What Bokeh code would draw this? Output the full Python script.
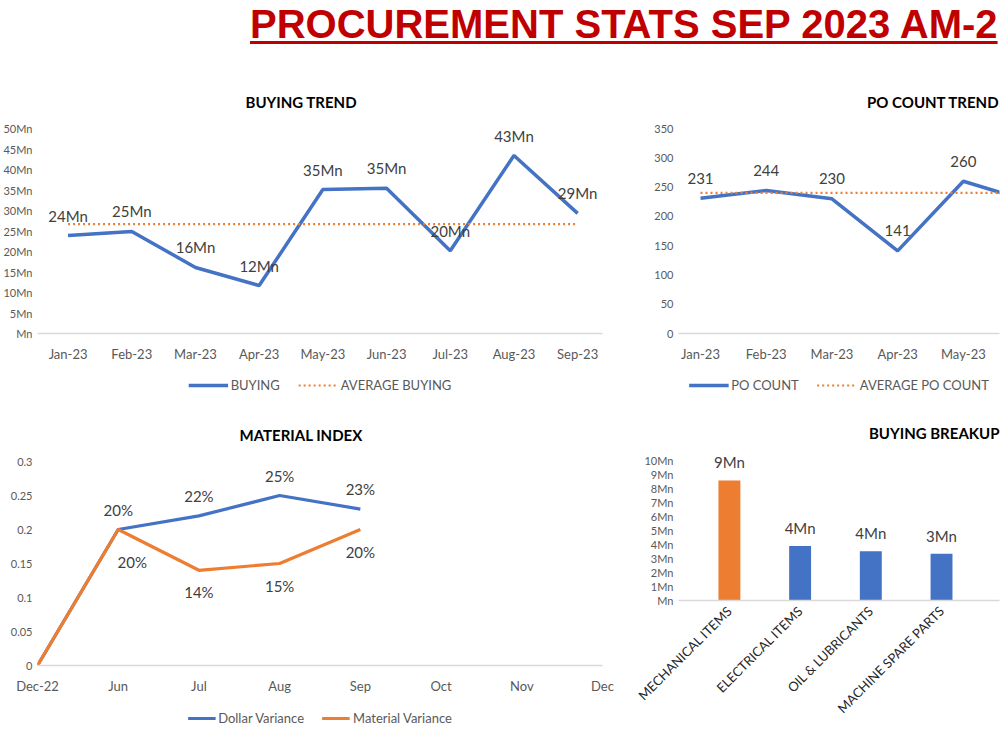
import math
from bokeh.plotting import figure
from bokeh.models import Range1d, FixedTicker, Legend, LegendItem, ColumnDataSource, Div
from bokeh.layouts import column, row
from bokeh.embed import file_html
from bokeh.resources import INLINE
from bokeh.core.properties import value

FONT = "Lato"
BLUE = "#4472C4"
ORANGE = "#ED7D31"
AXIS_GREY = "#595959"
LABEL_DARK = "#404040"

# ---------------- data ----------------
buy_months = ["Jan-23", "Feb-23", "Mar-23", "Apr-23", "May-23", "Jun-23", "Jul-23", "Aug-23", "Sep-23"]
buying_mn = [23.9, 24.9, 16.1, 11.7, 35.1, 35.4, 20.2, 43.4, 29.3]

po_months = ["Jan-23", "Feb-23", "Mar-23", "Apr-23", "May-23", "Jun-23"]
po_count = [231, 244, 230, 141, 260, 226]
po_average = 240

mi_months = ["Dec-22", "Jun", "Jul", "Aug", "Sep", "Oct", "Nov", "Dec"]
dollar_variance = [0.0, 0.20, 0.22, 0.25, 0.23]
material_variance = [0.0, 0.20, 0.14, 0.15, 0.20]

bb_categories = ["MECHANICAL ITEMS", "ELECTRICAL ITEMS", "OIL & LUBRICANTS", "MACHINE SPARE PARTS"]
bb_mn = [8.6, 3.9, 3.52, 3.35]
bb_colors = [ORANGE, BLUE, BLUE, BLUE]

LEFT_BORDER = 32
RIGHT_BORDER = 18
PO_LEFT = 58


def base_style(p, title, title_align="center", title_offset=0, standoff=36):
    p.title.text = title
    p.title.text_font = FONT
    p.title.text_font_size = "15px"
    p.title.text_font_style = "bold"
    p.title.text_color = "#000000"
    p.title.align = title_align
    p.title.offset = title_offset
    p.title.standoff = standoff
    p.outline_line_color = None
    p.xgrid.grid_line_color = None
    p.ygrid.grid_line_color = None
    p.yaxis.axis_line_color = None
    p.yaxis.major_tick_line_color = None
    p.yaxis.minor_tick_line_color = None
    p.yaxis.major_tick_out = 0
    p.yaxis.major_tick_in = 0
    p.yaxis.minor_tick_out = 0
    p.yaxis.major_label_standoff = 5
    p.xaxis.major_tick_line_color = None
    p.xaxis.minor_tick_line_color = None
    p.xaxis.major_tick_out = 0
    p.xaxis.major_tick_in = 0
    p.xaxis.minor_tick_out = 0
    p.xaxis.major_label_standoff = 12
    p.xaxis.axis_line_color = "#d9d9d9"
    p.xaxis.axis_line_width = 1.5
    for ax in (p.xaxis, p.yaxis):
        ax.major_label_text_font = FONT
        ax.major_label_text_color = AXIS_GREY
    p.xaxis.major_label_text_font_size = "13px"
    p.yaxis.major_label_text_font_size = "11px"
    p.background_fill_color = "white"
    p.border_fill_color = "white"


def legend_figure(width, height, entries, glyph_width, left, right):
    lf = figure(width=width, height=height, x_axis_type=None, y_axis_type=None,
                output_backend="svg", toolbar_location=None,
                min_border_left=left, min_border_right=right, min_border_top=0, min_border_bottom=0)
    lf.outline_line_color = None
    lf.xgrid.grid_line_color = None
    lf.ygrid.grid_line_color = None
    items = []
    for label, kw in entries:
        # legend proxy renderer: a single undefined point, nothing is drawn in the frame
        r = lf.line(x=[float("nan")], y=[float("nan")], **kw)
        items.append(LegendItem(label=label, renderers=[r]))
    lg = Legend(items=items, orientation="horizontal", location="center",
                border_line_color=None, background_fill_alpha=0,
                label_text_font=FONT, label_text_font_size="13px",
                label_text_color=AXIS_GREY, glyph_width=glyph_width, spacing=18,
                padding=0, margin=0, label_standoff=3)
    lf.add_layout(lg)
    return lf


# ---------------- BUYING TREND ----------------
bt_x = list(range(len(buy_months)))
bt_avg_val = sum(buying_mn) / len(buying_mn)
bt_src = ColumnDataSource(dict(
    x=bt_x, y=buying_mn, avg=[bt_avg_val] * len(bt_x),
    label=[f"{round(v)}Mn" for v in buying_mn]))

bt = figure(width=620, height=308, x_range=Range1d(-0.48, 8.39), y_range=Range1d(0, 50),
            output_backend="svg", toolbar_location=None,
            min_border_left=LEFT_BORDER, min_border_right=RIGHT_BORDER,
            min_border_top=66, min_border_bottom=37)
base_style(bt, "BUYING TREND", title_align="left", title_offset=208)
bt_line = dict(line_color=BLUE, line_width=3.5)
bt_avg_style = dict(line_color=ORANGE, line_width=2.2, line_dash="2 3")
bt.line("x", "y", source=bt_src, **bt_line)
bt.line("x", "avg", source=bt_src, **bt_avg_style)
bt.text("x", "y", text="label", source=bt_src, text_align="center", text_baseline="middle",
        y_offset=-20, text_font=value(FONT), text_font_size="15px", text_color=LABEL_DARK)
bt.xaxis.ticker = FixedTicker(ticks=bt_x)
bt.xaxis.major_label_overrides = {i: m for i, m in enumerate(buy_months)}
bt_ticks = list(range(0, 55, 5))
bt.yaxis.ticker = FixedTicker(ticks=bt_ticks)
bt.yaxis.major_label_overrides = {t: (f"{t}Mn" if t else "Mn") for t in bt_ticks}
bt_leg = legend_figure(620, 30, [("BUYING", bt_line), ("AVERAGE BUYING", bt_avg_style)], 40,
                       LEFT_BORDER, RIGHT_BORDER)

# ---------------- PO COUNT TREND ----------------
po_x = list(range(len(po_months)))
po_src = ColumnDataSource(dict(x=po_x, y=po_count, avg=[po_average] * len(po_x),
                               label=[str(v) if i < 5 else "" for i, v in enumerate(po_count)]))
po = figure(width=380, height=308, x_range=Range1d(-0.335, 4.55), y_range=Range1d(0, 350),
            output_backend="svg", toolbar_location=None,
            min_border_left=PO_LEFT, min_border_right=1, min_border_top=66, min_border_bottom=37)
base_style(po, "PO COUNT TREND", title_align="right")
po_line = dict(line_color=BLUE, line_width=3.5)
po_avg_style = dict(line_color=ORANGE, line_width=2.2, line_dash="2 3")
po.line("x", "y", source=po_src, **po_line)
po.line("x", "avg", source=po_src, **po_avg_style)
po.text("x", "y", text="label", source=po_src, text_align="center", text_baseline="middle",
        y_offset=-20, text_font=value(FONT), text_font_size="15px", text_color=LABEL_DARK)
po.xaxis.ticker = FixedTicker(ticks=po_x)
po.xaxis.major_label_overrides = {i: m for i, m in enumerate(po_months)}
po.yaxis.ticker = FixedTicker(ticks=list(range(0, 400, 50)))
po_leg = legend_figure(380, 30, [("PO COUNT", po_line), ("AVERAGE PO COUNT", po_avg_style)], 40,
                       PO_LEFT, 1)

# ---------------- MATERIAL INDEX ----------------
mi_x = list(range(len(dollar_variance)))
mi_src = ColumnDataSource(dict(
    x=mi_x, dv=dollar_variance, mv=material_variance,
    dv_label=[f"{round(v * 100)}%" if v else "" for v in dollar_variance],
    mv_label=[f"{round(v * 100)}%" if v else "" for v in material_variance],
    mv_dx=[0, 14, 0, 0, 0], mv_dy=[22, 32, 22, 22, 22]))
mi = figure(width=620, height=300, x_range=Range1d(0, 7), y_range=Range1d(0, 0.3),
            output_backend="svg", toolbar_location=None,
            min_border_left=LEFT_BORDER, min_border_right=RIGHT_BORDER,
            min_border_top=61, min_border_bottom=35)
base_style(mi, "MATERIAL INDEX", title_align="left", title_offset=202)
dv_style = dict(line_color=BLUE, line_width=3.2)
mv_style = dict(line_color=ORANGE, line_width=3.2)
mi.line("x", "dv", source=mi_src, **dv_style)
mi.line("x", "mv", source=mi_src, **mv_style)
mi.text("x", "dv", text="dv_label", source=mi_src, text_align="center", text_baseline="middle",
        y_offset=-20, text_font=value(FONT), text_font_size="15px", text_color=LABEL_DARK)
mi.text("x", "mv", text="mv_label", source=mi_src, text_align="center", text_baseline="middle",
        x_offset="mv_dx", y_offset="mv_dy", text_font=value(FONT), text_font_size="15px",
        text_color=LABEL_DARK)
mi.xaxis.ticker = FixedTicker(ticks=list(range(len(mi_months))))
mi.xaxis.major_label_overrides = {i: m for i, m in enumerate(mi_months)}
mi_ticks = [0, 0.05, 0.1, 0.15, 0.2, 0.25, 0.3]
mi.yaxis.ticker = FixedTicker(ticks=mi_ticks)
mi.yaxis.major_label_overrides = {t: f"{t:g}" for t in mi_ticks}
mi_leg = legend_figure(620, 35, [("Dollar Variance", dv_style), ("Material Variance", mv_style)], 28,
                       LEFT_BORDER, RIGHT_BORDER)

# ---------------- BUYING BREAKUP ----------------
bb_x = list(range(len(bb_categories)))
bb_src = ColumnDataSource(dict(x=bb_x, top=bb_mn, color=bb_colors,
                               label=[f"{round(v)}Mn" for v in bb_mn]))
bb = figure(width=380, height=350, x_range=Range1d(-0.72, 3.82), y_range=Range1d(0, 10.6),
            output_backend="svg", toolbar_location=None,
            min_border_left=PO_LEFT, min_border_right=1, min_border_top=52, min_border_bottom=150)
base_style(bb, "BUYING BREAKUP", title_align="right", standoff=21)
bb.vbar(x="x", top="top", width=0.31, source=bb_src, fill_color="color", line_color=None)
bb.text("x", "top", text="label", source=bb_src, text_align="center", text_baseline="middle",
        y_offset=-18, text_font=value(FONT), text_font_size="15px", text_color=LABEL_DARK)
bb.xaxis.ticker = FixedTicker(ticks=bb_x)
bb.xaxis.major_label_overrides = {i: c for i, c in enumerate(bb_categories)}
bb.xaxis.major_label_orientation = math.pi / 4
bb.xaxis.major_label_standoff = 8
bb.xaxis.major_label_text_color = "#262626"
bb.xaxis.major_label_text_font_size = "13px"
bb_ticks = list(range(0, 11))
bb.yaxis.ticker = FixedTicker(ticks=bb_ticks)
bb.yaxis.major_label_overrides = {t: (f"{t}Mn" if t else "Mn") for t in bb_ticks}

# ---------------- Title ----------------
title = Div(
    text=('<div style="font-family:\'Liberation Sans Narrow\',\'Liberation Sans\',sans-serif;'
          'font-weight:bold;font-size:40px;line-height:44px;color:#C00000;'
          'text-decoration:underline;text-decoration-thickness:3px;text-underline-offset:3px;'
          'white-space:nowrap;padding-left:250px;padding-top:2px;">'
          'PROCUREMENT STATS SEP 2023 AM-2</div>'),
    width=1000, height=62, margin=0)

layout = column(title, row(column(bt, bt_leg, mi, mi_leg), column(po, po_leg, bb)))
open("out.html", "w").write(file_html(layout, INLINE))
